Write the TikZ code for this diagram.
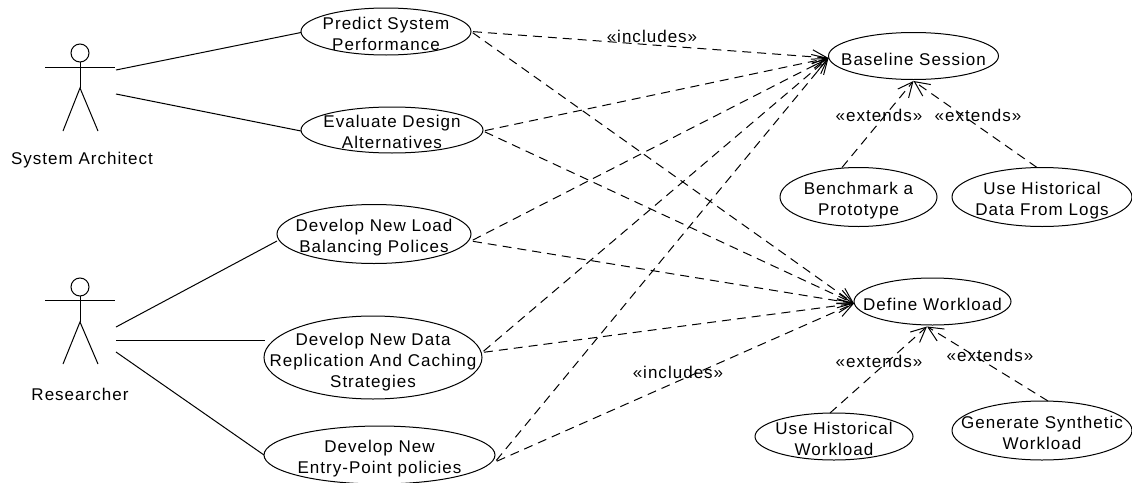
\documentclass[tikz,border=0pt]{standalone}
\usepackage{fontspec}
\setmainfont[LetterSpace=6]{Liberation Sans}
\usetikzlibrary{shapes.geometric,arrows.meta}

\begin{document}
\begin{tikzpicture}[x=1pt, y=-1pt, line width=1pt, font=\fontsize{17}{21}\selectfont,
    >={Straight Barb[length=15pt,width=14pt]}]
    \tikzstyle{usecase} = [ellipse, draw, align=center, inner xsep=-40pt, inner ysep=-15pt, outer sep=0pt, text depth=0pt, text height=37pt]
    \tikzstyle{small} = [usecase, minimum width=170pt, minimum height=47pt]
    \tikzstyle{single} = [small, text height=18pt]
    \tikzstyle{tall} = [usecase, minimum width=180pt, minimum height=59pt]
    \tikzstyle{head} = [circle, draw, inner sep=0pt, minimum size=18pt, outer sep=0pt]
    \tikzstyle{dep} = [->, dash pattern=on 9pt off 6pt, shorten <=2pt]
    \tikzstyle{tag} = [inner sep=0pt]

    \useasboundingbox (0,0) rectangle (1132,482);

    % Actors
    \node [head] (architect) at (80,53) {};
    \coordinate (architectArm) at (80,67);
    \coordinate (architectHip) at (80,88);
    \draw (architect.south) -- (architectHip);
    \draw ([xshift=-35pt]architectArm) -- ([xshift=35pt]architectArm);
    \draw ([xshift=-17pt,yshift=-43pt]architectHip) -- (architectHip) -- ([xshift=18pt,yshift=-43pt]architectHip);
    \node [tag] (architectName) at (82,160) {System Architect};

    \node [head] (researcher) at (80,287) {};
    \coordinate (researcherArm) at (80,300);
    \coordinate (researcherHip) at (80,322);
    \draw (researcher.south) -- (researcherHip);
    \draw ([xshift=-35pt]researcherArm) -- ([xshift=35pt]researcherArm);
    \draw ([xshift=-17pt,yshift=-42pt]researcherHip) -- (researcherHip) -- ([xshift=18pt,yshift=-42pt]researcherHip);
    \node [tag] (researcherName) at (80,394) {Researcher};

    % Use cases on the left
    \node [small] (predict) at (386,31.5) {Predict System\\Performance};
    \node [small, minimum width=182pt, minimum height=46pt] (evaluate) at (392,130) {Evaluate Design\\Alternatives};
    \node [tall, minimum width=194pt] (load) at (374,234) {Develop New Load\\Balancing Polices};
    \node [usecase, minimum width=218pt, minimum height=83pt, text height=59pt] (data) at (373,357.5) {Develop New Data\\Replication And Caching\\Strategies};
    \node [tall, minimum width=231pt, minimum height=58pt] (entry) at (379.5,455) {Develop New\\Entry-Point policies};

    % Use cases on the right
    \node [single] (baseline) at (913.5,56) {Baseline Session};
    \node [tall, minimum width=157pt] (benchmark) at (858.5,197) {Benchmark a\\Prototype};
    \node [tall] (logs) at (1042,197) {Use Historical\\Data From Logs};
    \node [single, minimum width=157pt] (workload) at (932.5,301.5) {Define Workload};
    \node [small, minimum width=158pt] (historical) at (834,436.5) {Use Historical\\Workload};
    \node [tall] (synthetic) at (1042,430.5) {Generate Synthetic\\Workload};

    % Actor connections
    \coordinate (architectTop) at (116,70);
    \coordinate (architectLow) at (116,94);
    \coordinate (researcherTop) at (116,327);
    \coordinate (researcherMid) at (116,340);
    \coordinate (researcherLow) at (116,352);
    \coordinate (dataIn) at (265,340);
    \draw (architectTop) -- ([yshift=-1pt]predict.west);
    \draw (architectLow) -- ([yshift=-1pt]evaluate.west);
    \draw (researcherTop) -- ([yshift=-7pt]load.west);
    \draw (researcherMid) -- (dataIn);
    \draw (researcherLow) -- (entry.west);

    % Includes
    \foreach \src/\off in {predict/0, evaluate/-1, load/-7, data/5, entry/-7} {
        \draw [dep] ([yshift=\off pt]\src.east) -- ([yshift=-2pt]baseline.west);
        \draw [dep] ([yshift=\off pt]\src.east) -- ([yshift=-2pt]workload.west);
    }

    % Extends
    \draw [dep, shorten <=0pt] ([xshift=-16.5pt]benchmark.north) -- ([yshift=-1.5pt]baseline.south);
    \draw [dep, shorten <=0pt] ([xshift=-5pt]logs.north) -- ([yshift=-1.5pt]baseline.south);
    \draw [dep, shorten <=0pt] ([xshift=-4pt]historical.north) -- ([xshift=-5.5pt,yshift=-1.5pt]workload.south);
    \draw [dep, shorten <=0pt] ([xshift=6pt]synthetic.north) -- ([xshift=-5.5pt,yshift=-1.5pt]workload.south);

    % Stereotypes
    \node [tag] (includesTop) at (652,36) {«includes»};
    \node [tag] (includesLow) at (678,372) {«includes»};
    \node [tag] (extendsBench) at (879,115) {«extends»};
    \node [tag] (extendsLogs) at (978,115) {«extends»};
    \node [tag] (extendsHist) at (879,361) {«extends»};
    \node [tag] (extendsSynth) at (990,355) {«extends»};
\end{tikzpicture}
\end{document}
